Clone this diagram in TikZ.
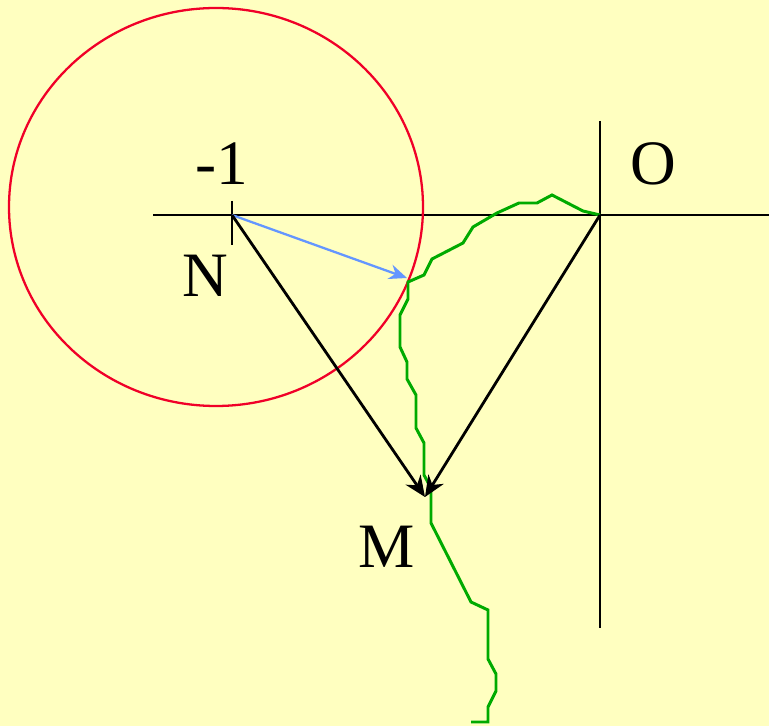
\documentclass[tikz,border=0pt]{standalone}
\usepackage{fontspec}
\setmainfont{Liberation Serif}
\usetikzlibrary{arrows.meta}
\definecolor{paper}{RGB}{255,255,192}
\definecolor{ring}{RGB}{240,0,40}
\definecolor{ray}{RGB}{100,150,255}
\definecolor{trail}{RGB}{0,170,0}

\begin{document}
\begin{tikzpicture}[x=0.02cm,y=-0.02cm,font=\fontsize{36}{40}\selectfont,>=Stealth,
     axis/.style={draw=black,line width=1.6pt},
     vec/.style={->,draw=black,line width=1.6pt,>={Stealth[length=0.42cm,width=0.36cm]}},
     lbl/.style={inner sep=0pt,anchor=center}]
    \fill[paper] (0,0) rectangle (769,726);
    \useasboundingbox (0,0) rectangle (769,726);
    \coordinate (n) at (232,215);
    \coordinate (o) at (600,215);
    \coordinate (m) at (425,497);
    \coordinate (rim) at (407,278);
    % axes and tick
    \draw[axis] (153,215) -- (769,215);
    \draw[axis] (600,121) -- (600,628);
    \draw[axis] (232,201) -- (232,245);
    % circle about -1
    \draw[ring,line width=1.3pt] (216,207) ellipse [x radius=207,y radius=199];
    \node[lbl] (minus) at (222,164) {-1};
    \node[lbl] (origin) at (653,164) {O};
    \node[lbl] (nlbl) at (205,276) {N};
    \node[lbl] (mlbl) at (387,547) {M};
    % path of the point
    \draw[trail,line width=1.7pt] (o) -- (583,211) -- (552,195) -- (537,203) -- (519,203) -- (497,213)
        -- (473,227) -- (463,243) -- (432,259) -- (424,275) -- (408,282) -- (408,299) -- (400,315)
        -- (400,347) -- (407,362) -- (407,379) -- (416,395) -- (416,428) -- (424,443) -- (424,475)
        -- (431,488) -- (431,523) -- (471,602) -- (488,610) -- (488,659) -- (496,674) -- (496,691)
        -- (488,707) -- (488,722) -- (471,722);
    % vectors
    \draw[->,draw=ray,line width=1.3pt,>={Stealth[length=0.36cm,width=0.3cm]}] (n) -- (rim);
    \draw[vec] (n) -- (m);
    \draw[vec] (o) -- (m);
  \end{tikzpicture}
\end{document}
